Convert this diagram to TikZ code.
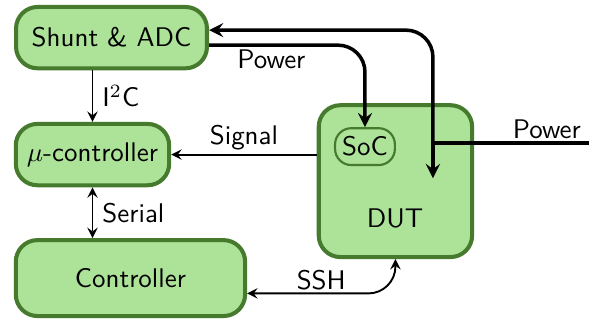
\documentclass[tikz,border=0pt]{standalone}
\usetikzlibrary{positioning}
\definecolor{boxfill}{RGB}{173,226,153}
\definecolor{boxline}{RGB}{70,122,45}
\begin{document}
\begin{tikzpicture}[>=stealth, font=\sffamily,
		block/.style={draw=boxline, fill=boxfill, line width=1.5pt, rounded corners=8pt, align=center},
		thin line/.style={line width=0.7pt},
		power line/.style={line width=1.3pt, rounded corners=10pt}]
		\useasboundingbox (0,0) rectangle (7.68,4.2);
		
		\node[block, minimum width=2.49cm, minimum height=0.8cm] (shunt) at (1.454,3.709) {Shunt \& ADC};
		\node[block, minimum width=2cm, minimum height=0.8cm] (mu) at (1.206,2.184) {$\mu$-controller};
		\node[block, minimum width=2.99cm, minimum height=0.99cm] (ctrl) at (1.701,0.574) {Controller};
		\node[block, minimum width=2cm, minimum height=1.98cm] (dut) at (5.156,1.838) {};
		\node (dutlabel) at (5.15,1.356) {DUT};
		\node[draw=boxline, line width=0.8pt, rounded corners=6pt, minimum width=0.78cm, minimum height=0.48cm, inner sep=1pt] (soc) at (4.759,2.288) {SoC};
		
		\coordinate (split) at (5.645,2.334);
		\coordinate (powerin) at (7.68,2.334);
		\coordinate (dutin) at (5.645,1.877);
		
		\draw[thin line, ->] (shunt.south -| mu.north) -- node[right] {I$^2$C} (mu.north);
		\draw[thin line, <->] (mu.south) -- node[right] {Serial} (mu.south |- ctrl.north);
		\draw[thin line, ->] (dut.west |- mu.east) -- node[above, inner sep=1.5pt] {Signal} (mu.east);
		\draw[thin line, <->, rounded corners=10pt] ([yshift=-0.2cm]ctrl.east) -- node[above, pos=0.5, inner sep=1pt] {SSH} ([yshift=-0.2cm]ctrl.east -| dut.south) -- (dut.south);
		
		\draw[power line, ->] ([yshift=-0.098cm]shunt.east) -- node[below, pos=0.4, inner sep=1pt] {Power} ([yshift=-0.098cm]shunt.east -| soc.north) -- (soc.north);
		\draw[power line] (powerin) -- node[above, pos=0.27, inner sep=1pt] {Power} (split);
		\draw[power line, ->] (split) -- ([yshift=0.098cm]shunt.east -| split) -- ([yshift=0.098cm]shunt.east);
		\draw[power line, ->] (split) -- (dutin);
		
	\end{tikzpicture}
\end{document}
